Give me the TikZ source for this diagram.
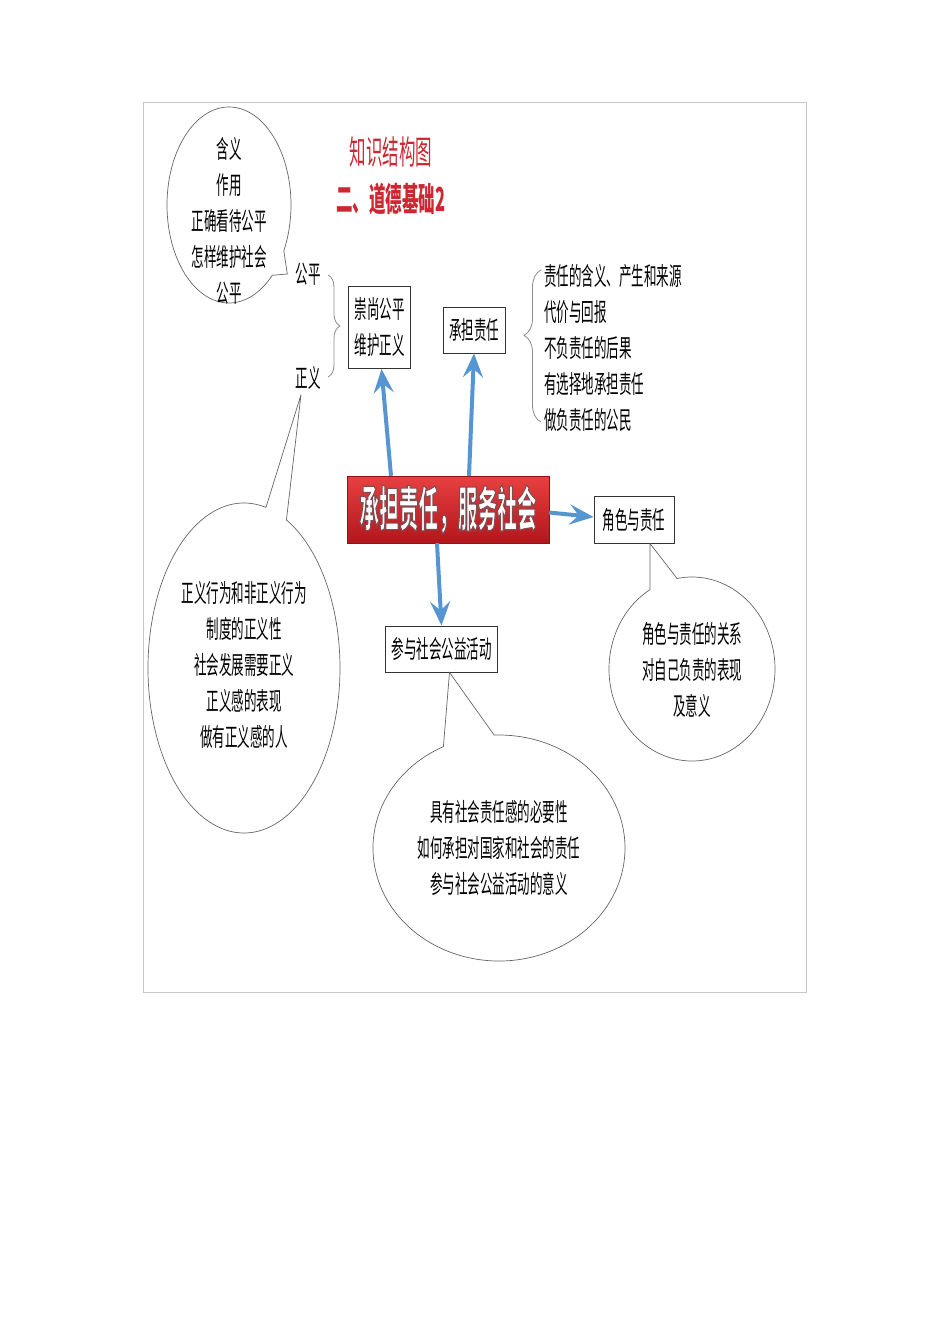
\documentclass[tikz,border=0pt]{standalone}
\usepackage{fontspec}
\usepackage{xcolor}
\usepackage{tikz}
\usetikzlibrary{arrows.meta,shapes.callouts,decorations.pathreplacing}
\newfontfamily\cjk[FakeStretch=0.5]{Noto Sans CJK SC}
\newfontfamily\cjktitle[FakeStretch=0.5]{Noto Sans CJK SC}
\newfontfamily\cjkhub[FakeStretch=0.41]{Noto Sans CJK SC}
\definecolor{titlered}{RGB}{205,40,50}
\definecolor{arrowblue}{RGB}{85,150,210}
\definecolor{hubtop}{RGB}{232,64,64}
\definecolor{hubbottom}{RGB}{178,22,28}
\definecolor{framegray}{RGB}{200,200,200}
\newcommand{\outlined}[1]{\special{pdf:literal direct 2 Tr 1.1 w 0.5 0.3 0.32 RG}#1\special{pdf:literal direct 0 Tr}}
\tikzset{
  txt/.style={font=\cjk\fontsize{25}{36}\selectfont, align=center, inner sep=0pt},
  box/.style={txt, draw=black!80, line width=0.8pt, fill=white, inner xsep=6pt, inner ysep=11.5pt},
  bubble/.style={ellipse callout, draw=black!60, line width=0.7pt, inner sep=0pt},
  bigarrow/.style={arrowblue, line width=4pt, -{Stealth[length=24pt,width=20pt,inset=9pt]}},
  bracket/.style={draw=black!45, line width=0.8pt, decorate, decoration={brace, amplitude=#1}},
}

\begin{document}
\begin{tikzpicture}[x=1pt,y=-1pt]
            % Define the page and the frame
            \fill[white] (0,0) rectangle (950,1344);
            \useasboundingbox (0,0) rectangle (950,1344);
            \draw[framegray, line width=0.8pt] (143,102) rectangle (806,992);

            % Define the title
            \node[titlered, font=\cjktitle\fontsize{33}{36}\selectfont] (title) at (391,152) {知识结构图};
            \node[titlered, font=\cjktitle\bfseries\fontsize{33}{36}\selectfont] (subtitle) at (391,199) {二、道德基础2};

            % Define the central box
            \node[draw=hubbottom!80!black, top color=hubtop, bottom color=hubbottom, text=white,
                  font=\cjkhub\bfseries\fontsize{48}{50}\selectfont, inner sep=0pt,
                  minimum width=202pt, minimum height=67pt] (hub) at (448,509.5) {\outlined{承担责任，服务社会}};

            % Define the boxes round it
            \node[box] (fair) at (379.5,327.5) {崇尚公平\\维护正义};
            \node[box] (duty) at (474,330) {承担责任};
            \node[box, minimum width=80pt] (role) at (634,520) {角色与责任};
            \node[box] (public) at (441.5,649) {参与社会公益活动};

            % Define the arrows from the central box
            \draw[bigarrow] ([xshift=-57pt]hub.north) -- ([xshift=2pt]fair.south);
            \draw[bigarrow] ([xshift=21pt]hub.north) -- (duty.south);
            \draw[bigarrow] ([yshift=-3pt]hub.east) -- ([yshift=3pt]role.west);
            \draw[bigarrow] ([xshift=-11pt]hub.south) -- (public.north);

            % Define the two words and their brace
            \node[txt] (gp) at (308,274) {公平};
            \node[txt] (zy) at (308,378) {正义};
            \coordinate (fairtop) at (328,275);
            \coordinate (fairbottom) at (328,377);
            \draw[bracket=12pt] (fairtop) -- (fairbottom);

            % Define the list on duty and its brace
            \node[txt, align=left, anchor=west] (dutylist) at (544,348.5)
                {责任的含义、产生和来源\\代价与回报\\不负责任的后果\\有选择地承担责任\\做负责任的公民};
            \coordinate (dutybottom) at (541,422);
            \coordinate (dutytop) at (541,270);
            \draw[bracket=17pt, decoration={aspect=0.57}] (dutybottom) -- (dutytop);

            % Define the bubble on fairness
            \node[bubble, minimum width=124pt, minimum height=196pt, callout pointer arc=18,
                  callout absolute pointer={([xshift=-8pt,yshift=0pt]gp.west)}] (fairbubble) at (229,205) {};
            \node[txt] (fairtext) at (229,221) {含义\\作用\\正确看待公平\\怎样维护社会\\公平};

            % Define the bubble on justice
            \node[bubble, minimum width=192pt, minimum height=330pt, callout pointer arc=13,
                  callout absolute pointer={([xshift=-7pt,yshift=-5pt]zy.south)}] (justbubble) at (244,668) {};
            \node[txt] (justtext) at (244,664.5) {正义行为和非正义行为\\制度的正义性\\社会发展需要正义\\正义感的表现\\做有正义感的人};

            % Define the bubble on public welfare
            \node[bubble, minimum width=252pt, minimum height=226pt, callout pointer arc=24,
                  callout absolute pointer={([xshift=8pt]public.south)}] (publicbubble) at (499,848) {};
            \node[txt] (publictext) at (499,848) {具有社会责任感的必要性\\如何承担对国家和社会的责任\\参与社会公益活动的意义};

            % Define the bubble on roles
            \node[bubble, minimum width=166pt, minimum height=184pt, callout pointer arc=20,
                  callout absolute pointer={([xshift=16pt]role.south)}] (rolebubble) at (692,669) {};
            \node[txt] (roletext) at (692,669.5) {角色与责任的关系\\对自己负责的表现\\及意义};

        \end{tikzpicture}
\end{document}
